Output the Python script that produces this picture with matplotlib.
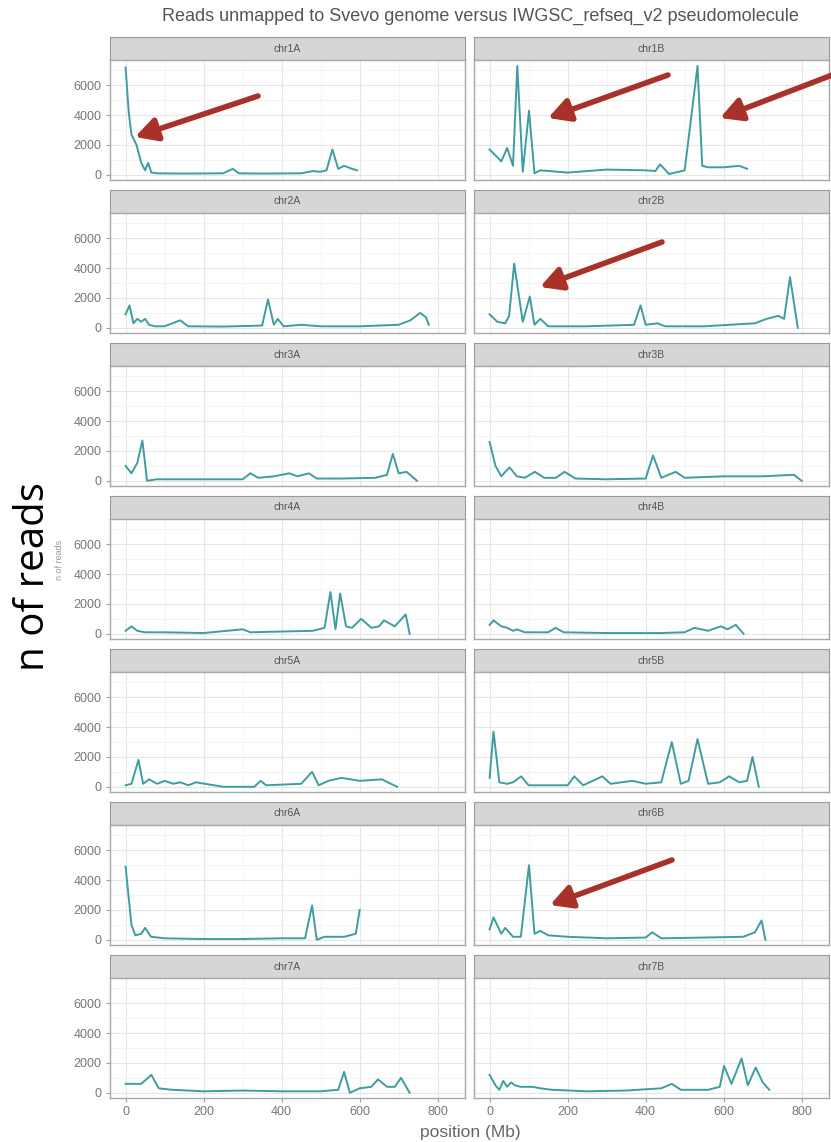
import matplotlib
matplotlib.use('Agg')
import matplotlib.pyplot as plt

# values (position in Mb, number of reads)
chr1A_pos = [0, 8, 15, 28, 40, 50, 58, 66, 80, 150, 250, 275, 290, 350, 450, 480, 500, 515, 530, 545, 560, 575, 593]
chr1A_val = [7200, 4200, 2700, 2000, 800, 300, 800, 150, 100, 80, 100, 400, 100, 80, 100, 250, 200, 300, 1700, 400, 600, 450, 300]

chr1B_pos = [0, 15, 30, 45, 60, 71, 85, 101, 115, 130, 200, 300, 400, 425, 437, 460, 500, 533, 545, 560, 600, 640, 660]
chr1B_val = [1700, 1300, 900, 1800, 600, 7300, 200, 4300, 100, 300, 150, 350, 300, 250, 700, 50, 300, 7300, 600, 500, 500, 600, 400]

chr2A_pos = [0, 10, 20, 30, 40, 50, 60, 75, 100, 140, 160, 250, 350, 365, 380, 390, 405, 450, 500, 600, 700, 730, 755, 770, 777]
chr2A_val = [900, 1500, 300, 600, 400, 600, 200, 100, 100, 500, 100, 80, 150, 1900, 200, 600, 100, 200, 100, 100, 200, 500, 1000, 700, 200]

chr2B_pos = [0, 20, 40, 50, 63, 85, 103, 115, 130, 150, 250, 370, 387, 400, 430, 450, 550, 680, 710, 740, 755, 770, 790]
chr2B_val = [900, 400, 300, 800, 4300, 400, 2100, 200, 600, 100, 100, 200, 1500, 200, 300, 100, 100, 300, 600, 800, 600, 3400, 0]

chr3A_pos = [0, 15, 30, 43, 55, 80, 200, 300, 320, 340, 380, 420, 440, 470, 490, 550, 640, 670, 685, 700, 720, 747]
chr3A_val = [1000, 500, 1200, 2700, 0, 100, 100, 100, 500, 200, 300, 500, 300, 500, 150, 150, 200, 400, 1800, 500, 600, 0]

chr3B_pos = [0, 15, 30, 51, 70, 90, 116, 140, 170, 192, 220, 300, 400, 419, 440, 477, 500, 600, 700, 780, 800]
chr3B_val = [2600, 1000, 300, 900, 300, 200, 600, 200, 200, 600, 150, 100, 150, 1700, 200, 600, 200, 300, 300, 400, 0]

chr4A_pos = [0, 15, 30, 50, 100, 200, 300, 320, 400, 480, 510, 525, 538, 550, 565, 580, 604, 630, 650, 662, 690, 718, 728]
chr4A_val = [200, 500, 200, 100, 100, 50, 300, 100, 150, 200, 400, 2800, 300, 2700, 500, 400, 1000, 400, 500, 900, 500, 1300, 0]

chr4B_pos = [0, 10, 30, 45, 60, 70, 90, 150, 169, 190, 300, 440, 500, 525, 560, 593, 610, 631, 651]
chr4B_val = [600, 900, 500, 400, 200, 300, 100, 100, 400, 100, 50, 50, 100, 400, 200, 500, 300, 600, 0]

chr5A_pos = [0, 15, 33, 45, 60, 81, 100, 122, 140, 161, 180, 250, 330, 346, 360, 450, 478, 495, 520, 553, 600, 657, 680, 696]
chr5A_val = [100, 200, 1800, 200, 500, 200, 400, 200, 300, 100, 300, 0, 0, 400, 100, 200, 1000, 100, 400, 600, 400, 500, 200, 0]

chr5B_pos = [0, 10, 25, 45, 60, 81, 100, 200, 217, 240, 289, 310, 366, 400, 440, 467, 490, 510, 533, 560, 590, 614, 640, 660, 674, 690]
chr5B_val = [600, 3700, 300, 200, 300, 700, 100, 100, 700, 100, 700, 200, 400, 200, 300, 3000, 200, 400, 3200, 200, 300, 700, 300, 400, 2000, 0]

chr6A_pos = [0, 15, 25, 40, 50, 65, 100, 200, 300, 400, 460, 478, 490, 510, 560, 590, 600]
chr6A_val = [4900, 1000, 300, 400, 800, 200, 100, 50, 50, 100, 100, 2300, 0, 200, 200, 400, 2000]

chr6B_pos = [0, 10, 30, 40, 60, 80, 101, 115, 130, 150, 200, 300, 400, 417, 440, 550, 650, 680, 697, 707]
chr6B_val = [700, 1500, 400, 800, 200, 200, 5000, 400, 600, 300, 200, 100, 150, 500, 100, 150, 200, 500, 1300, 0]

chr7A_pos = [0, 20, 40, 66, 85, 120, 200, 300, 400, 500, 545, 560, 575, 600, 630, 647, 670, 690, 706, 728]
chr7A_val = [600, 600, 600, 1200, 300, 200, 100, 150, 100, 100, 200, 1400, 0, 300, 400, 900, 400, 400, 1000, 0]

chr7B_pos = [0, 15, 25, 35, 45, 55, 65, 80, 110, 130, 160, 250, 350, 440, 467, 490, 560, 590, 601, 620, 646, 662, 682, 700, 717]
chr7B_val = [1200, 500, 200, 800, 400, 700, 500, 400, 400, 300, 200, 100, 150, 300, 600, 200, 200, 400, 1800, 600, 2300, 500, 1700, 700, 200]

panels = [
    ('chr1A', chr1A_pos, chr1A_val), ('chr1B', chr1B_pos, chr1B_val),
    ('chr2A', chr2A_pos, chr2A_val), ('chr2B', chr2B_pos, chr2B_val),
    ('chr3A', chr3A_pos, chr3A_val), ('chr3B', chr3B_pos, chr3B_val),
    ('chr4A', chr4A_pos, chr4A_val), ('chr4B', chr4B_pos, chr4B_val),
    ('chr5A', chr5A_pos, chr5A_val), ('chr5B', chr5B_pos, chr5B_val),
    ('chr6A', chr6A_pos, chr6A_val), ('chr6B', chr6B_pos, chr6B_val),
    ('chr7A', chr7A_pos, chr7A_val), ('chr7B', chr7B_pos, chr7B_val),
]

x_ticks = [0, 200, 400, 600, 800]
y_ticks = [0, 2000, 4000, 6000]

plt.rcParams['font.family'] = ['Liberation Sans', 'DejaVu Sans']

W, H = 831, 1142
fig = plt.figure(figsize=(W / 100, H / 100), dpi=100)

col_left = [110, 474]
col_width = 355
strip_h = 23
panel_h = 120
row_pitch = 153

line_col = '#3f9d9f'
grey_txt = '#777777'

for i, (name, pos, val) in enumerate(panels):
    row, col = divmod(i, 2)
    strip_top = 37 + row * row_pitch
    panel_top = strip_top + strip_h
    x0 = col_left[col] / W
    w = col_width / W

    # strip
    sax = fig.add_axes([x0, 1 - panel_top / H, w, strip_h / H])
    sax.set_facecolor('#d6d6d6')
    sax.set_xticks([])
    sax.set_yticks([])
    for s in sax.spines.values():
        s.set_color('#9a9a9a')
    sax.text(0.5, 0.5, name, ha='center', va='center', fontsize=7.5, color='#555555',
             transform=sax.transAxes)

    ax = fig.add_axes([x0, 1 - (panel_top + panel_h) / H, w, panel_h / H])
    ax.plot(pos, val, color=line_col, lw=1.4)
    ax.set_xlim(-40, 870)
    ax.set_ylim(-350, 7700)
    ax.set_xticks(x_ticks)
    ax.set_xticks([100, 300, 500, 700], minor=True)
    ax.set_yticks(y_ticks)
    ax.set_yticks([1000, 3000, 5000, 7000], minor=True)
    ax.grid(which='major', color='#e6e6e6', lw=0.8)
    ax.grid(which='minor', color='#f3f3f3', lw=0.6)
    ax.set_axisbelow(True)
    for s in ax.spines.values():
        s.set_color('#a8a8a8')
        s.set_linewidth(1.0)
    ax.tick_params(which='minor', length=0)
    ax.tick_params(which='major', length=3, color='#a0a0a0', labelsize=9,
                   labelcolor=grey_txt, pad=3)
    if col == 1:
        ax.tick_params(axis='y', length=0, labelleft=False)
    if row < 6:
        ax.tick_params(axis='x', length=0, labelbottom=False)

fig.text(480 / W, 1 - 16 / H,
         'Reads unmapped to Svevo genome versus IWGSC_refseq_v2 pseudomolecule',
         ha='center', va='center', fontsize=13, color='#555555')
fig.text(470 / W, 1 - 1133 / H, 'position (Mb)', ha='center', va='center',
         fontsize=12.5, color='#666666')
fig.text(59 / W, 1 - 560 / H, 'n of reads', ha='center', va='center', rotation=90,
         fontsize=6.5, color='#9a9a9a')
fig.text(34 / W, 1 - 577 / H, 'n of reads', ha='center', va='center', rotation=90,
         fontsize=29, color='black', family=['Open Sans', 'DejaVu Sans'])

# red arrows pointing at the peaks (figure pixel coordinates)
arrows = [((258, 96), (135, 137)), ((668, 75), (548, 118)), ((840, 72), (720, 118)),
          ((662, 242), (540, 287)), ((672, 860), (550, 905))]
for (tx, ty), (hx, hy) in arrows:
    fig.add_artist(matplotlib.patches.FancyArrowPatch(
        (tx / W, 1 - ty / H), (hx / W, 1 - hy / H), transform=fig.transFigure,
        arrowstyle='-|>,head_length=13,head_width=7', color='#a8322a', lw=4,
        mutation_scale=1, shrinkA=0, shrinkB=0))

fig.savefig('out.png', dpi=100)
